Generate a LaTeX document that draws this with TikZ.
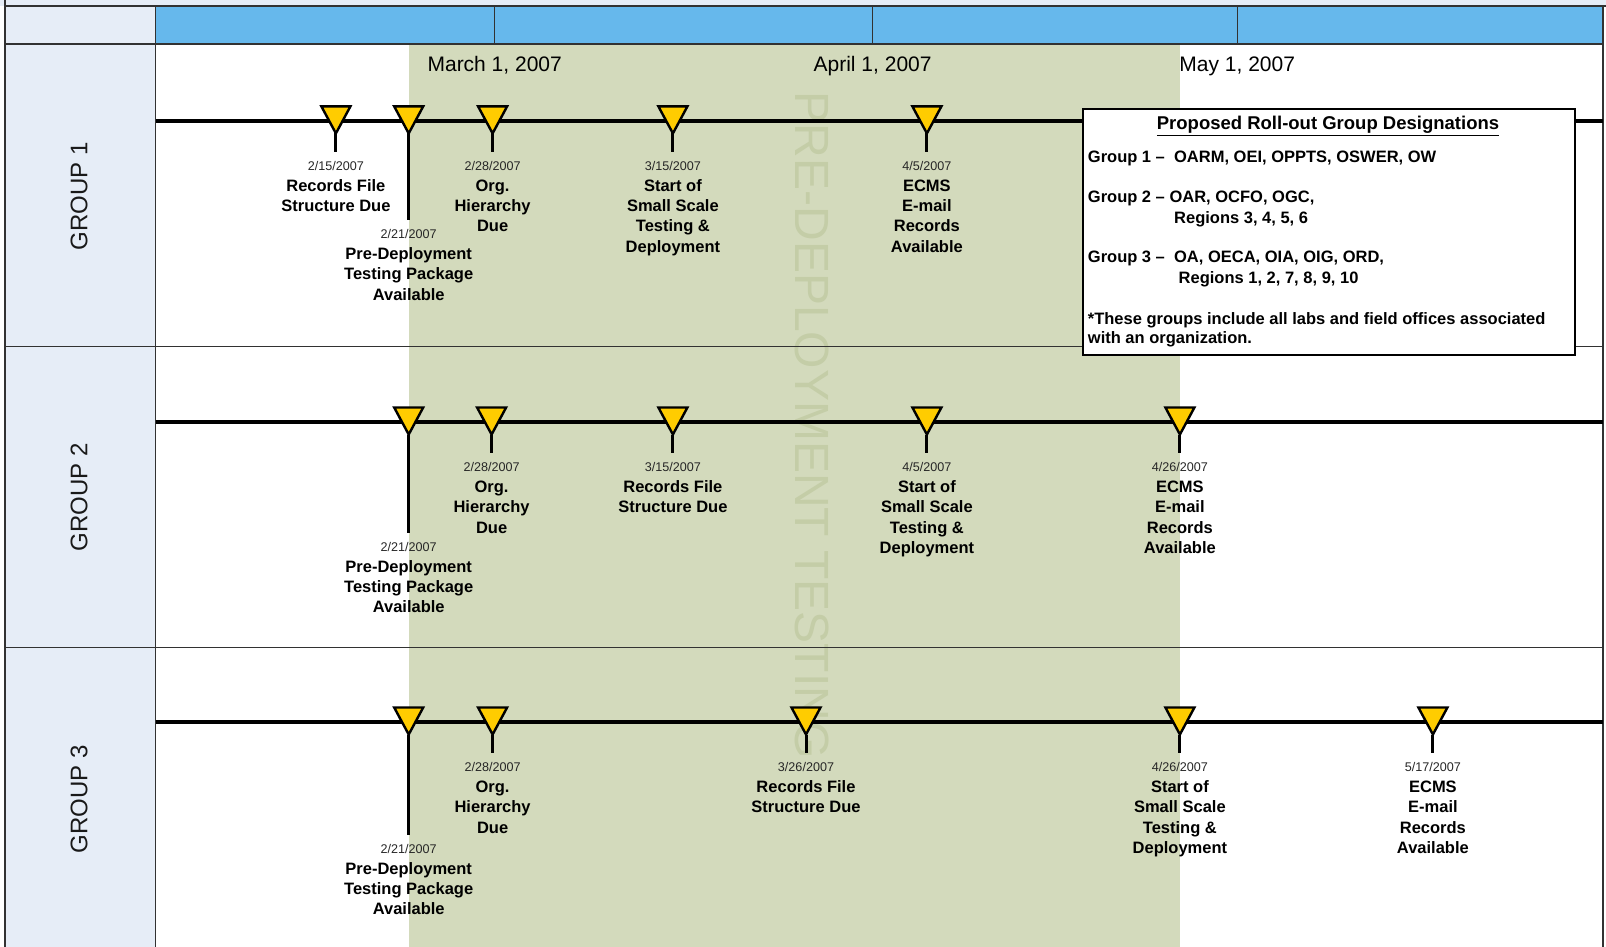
\documentclass[tikz,border=0pt]{standalone}
\usepackage{fontspec}
\setmainfont{Liberation Sans}
\definecolor{hdrblue}{RGB}{102,184,236}
\definecolor{colfill}{RGB}{230,237,247}
\definecolor{bandc}{RGB}{211,218,188}
\definecolor{wmarkc}{RGB}{196,205,167}
\definecolor{trifill}{RGB}{255,204,0}
\definecolor{gridc}{RGB}{50,50,50}
\newcommand\lblfont{\fontsize{16.5}{20.2}\selectfont\bfseries}
\newcommand\datefont{\fontsize{12.6}{15}\selectfont}
\newcommand\boxfont{\fontsize{16.5}{20}\selectfont\bfseries}
\tikzset{
  mlbl/.style={font=\lblfont, align=center, inner sep=0pt, anchor=base},
  dlbl/.style={font=\datefont, inner sep=0pt, anchor=base, text=black!85},
  tline/.style={line width=3.6pt, black},
  stemline/.style={line width=3pt, black},
  tristyle/.style={fill=trifill, draw=black, line width=2.4pt, line join=miter},
  gridline/.style={gridc, line width=1.2pt},
  monthlbl/.style={font=\fontsize{21}{24}\selectfont, inner sep=0pt, anchor=base},
  grouplbl/.style={font=\fontsize{24}{28}\selectfont, inner sep=0pt, rotate=90, text=black!90},
  wmk/.style={font=\fontsize{48}{48}\selectfont, text=wmarkc, rotate=-90, anchor=west, inner sep=0pt},
  boxtxt/.style={font=\boxfont, inner sep=0pt, anchor=base west}
}
% #1 name, #2 x, #3 timeline y, #4 stem length, #5 date, #6 number of label lines, #7 label
\newcommand\milestone[7]{%
  \coordinate (#1t) at ({#2},{#3+12.5});
  \coordinate (#1e) at ({#2},{#3+#4});
  \draw[stemline] (#1t) -- (#1e);
  \filldraw[tristyle] ({#2-14.5},{#3-14.5}) -- ({#2+14.5},{#3-14.5}) -- (#1t) -- cycle;
  \node[dlbl] (#1d) at ({#2},{#3+#4+19}) {#5};
  \node[mlbl] (#1l) at ({#2},{#3+#4+39.8+(#6-1)*20.2}) {#7};
}
\begin{document}
\begin{tikzpicture}[x=1pt,y=-1pt]
\useasboundingbox (0,0) rectangle (1606,947);
% fills
\fill[colfill] (0,0) rectangle (1606,6);
\fill[colfill] (5,6) rectangle (155.7,947);
\fill[hdrblue] (155.7,6) rectangle (1603,44);
\fill[bandc] (408.7,44) rectangle (1179.9,947);
% watermark
\node[wmk] (wm) at (811.7,91.5) {PRE-DEPLOYMENT TESTING};
% grid
\draw[gridline] (5,0) -- (5,947);
\draw[gridline] (5,6) -- (1606,6);
\draw[gridline] (5,44) -- (1603,44);
\draw[gridline] (5,346.2) -- (1603,346.2);
\draw[gridline] (5,647.3) -- (1603,647.3);
\draw[gridline] (155.7,6) -- (155.7,947);
\draw[gridline] (1603,6) -- (1603,947);
\draw[gridline] (494.7,6) -- (494.7,44);
\draw[gridline] (872.6,6) -- (872.6,44);
\draw[gridline] (1237.2,6) -- (1237.2,44);
% month labels
\node[monthlbl] (m3) at (494.7,72) {March 1, 2007};
\node[monthlbl] (m4) at (872.6,72) {April 1, 2007};
\node[monthlbl] (m5) at (1237.2,72) {May 1, 2007};
% group labels
\node[grouplbl] (g1) at (79,196) {GROUP 1};
\node[grouplbl] (g2) at (79,497) {GROUP 2};
\node[grouplbl] (g3) at (79,799) {GROUP 3};
% timelines
\coordinate (L1) at (155.7,120.9); \coordinate (R1) at (1603,120.9);
\coordinate (L2) at (155.7,422); \coordinate (R2) at (1603,422);
\coordinate (L3) at (155.7,722); \coordinate (R3) at (1603,722);
\draw[tline] (L1) -- (R1);
\draw[tline] (L2) -- (R2);
\draw[tline] (L3) -- (R3);
% row 1
\milestone{a1}{335.9}{120.9}{30.8}{2/15/2007}{2}{Records File\\Structure Due}
\milestone{b1}{408.7}{120.9}{99}{2/21/2007}{3}{Pre-Deployment\\Testing Package\\Available}
\milestone{c1}{492.6}{120.9}{30.8}{2/28/2007}{3}{Org.\\Hierarchy\\Due}
\milestone{d1}{672.9}{120.9}{30.8}{3/15/2007}{4}{Start of\\Small Scale\\Testing \&\\Deployment}
\milestone{e1}{926.9}{120.9}{30.8}{4/5/2007}{4}{ECMS\\E-mail\\Records\\Available}
% row 2
\milestone{b2}{408.7}{422}{110.6}{2/21/2007}{3}{Pre-Deployment\\Testing Package\\Available}
\milestone{c2}{491.6}{422}{30.8}{2/28/2007}{3}{Org.\\Hierarchy\\Due}
\milestone{d2}{672.9}{422}{30.8}{3/15/2007}{2}{Records File\\Structure Due}
\milestone{e2}{926.9}{422}{30.8}{4/5/2007}{4}{Start of\\Small Scale\\Testing \&\\Deployment}
\milestone{f2}{1179.9}{422}{30.8}{4/26/2007}{4}{ECMS\\E-mail\\Records\\Available}
% row 3
\milestone{b3}{408.7}{722}{112.7}{2/21/2007}{3}{Pre-Deployment\\Testing Package\\Available}
\milestone{c3}{492.6}{722}{30.8}{2/28/2007}{3}{Org.\\Hierarchy\\Due}
\milestone{d3}{806}{722}{30.8}{3/26/2007}{2}{Records File\\Structure Due}
\milestone{e3}{1179.9}{722}{30.8}{4/26/2007}{4}{Start of\\Small Scale\\Testing \&\\Deployment}
\milestone{f3}{1432.9}{722}{30.8}{5/17/2007}{4}{ECMS\\E-mail\\Records\\Available}
% legend box
\node[draw=black, line width=2pt, fill=white, minimum width=492pt, minimum height=246pt, anchor=north west, inner sep=0pt] (box) at (1082,108) {};
\node[font=\fontsize{18.5}{22}\selectfont\bfseries, inner sep=0pt, anchor=base] (bt) at (1328,129.6) {\underline{Proposed Roll-out Group Designations}};
\node[boxtxt] (bg1) at (1087.7,162.6) {Group 1 –\ \ OARM, OEI, OPPTS, OSWER, OW};
\node[boxtxt] (bg2) at (1087.7,202.5) {Group 2 – OAR, OCFO, OGC,};
\node[boxtxt] (bg2r) at (1174,223) {Regions 3, 4, 5, 6};
\node[boxtxt] (bg3) at (1087.7,262.9) {Group 3 –\ \ OA, OECA, OIA, OIG, ORD,};
\node[boxtxt] (bg3r) at (1178.5,283.5) {Regions 1, 2, 7, 8, 9, 10};
\node[boxtxt] (bn1) at (1087.7,324.4) {*These groups include all labs and field offices associated};
\node[boxtxt] (bn2) at (1087.7,343.9) {with an organization.};
\end{tikzpicture}
\end{document}
